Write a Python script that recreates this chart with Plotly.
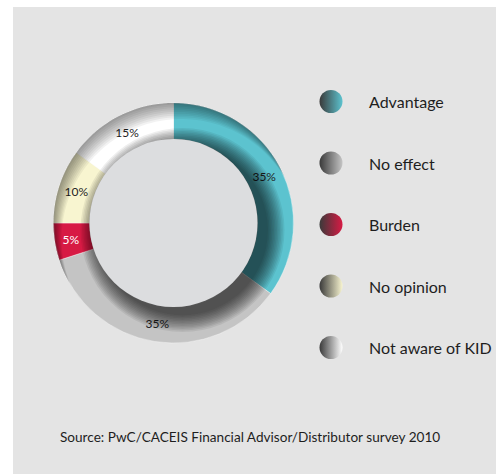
import math
import plotly.graph_objects as go

# Survey answers: impact of the KID
labels = ["Advantage", "No effect", "Burden", "No opinion", "Not aware of KID"]
shares = [35, 35, 5, 10, 15]
slice_colors = ["#5cc3cf", "#c4c4c4", "#d71a44", "#f8f5d0", "#ffffff"]
text_colors = ["#1e1e1e", "#1e1e1e", "#ffffff", "#1e1e1e", "#1e1e1e"]
source_note = "Source: PwC/CACEIS Financial Advisor/Distributor survey 2010"

W, H = 496, 474
FONT = "Lato"
cx, cy, R = 173.5, 223.0, 120.0   # donut centre / outer radius in px
HOLE = 0.70
r_in = R * HOLE


def px_x(v):
    return v / W


def px_y(v):
    return 1 - v / H


def rim_shade_path(ox, oy, n=144):
    """Crescent inside the outer circle, left over when the circle is shifted by (ox, oy)."""
    outer, inner = [], []
    for i in range(n):
        a = 2 * math.pi * i / n
        ux, uy = math.cos(a), math.sin(a)
        dot = ux * ox + uy * oy
        t = dot + math.sqrt(max(dot * dot - (ox * ox + oy * oy) + R * R, 0.0))
        r = min(t, R)
        outer.append((px_x(cx + R * ux), px_y(cy + R * uy)))
        inner.append((px_x(cx + r * ux), px_y(cy + r * uy)))
    inner.reverse()
    fmt = lambda pts: "M" + "L".join(f"{x:.5f},{y:.5f}" for x, y in pts) + "Z"
    return fmt(outer) + fmt(inner)


fig = go.Figure()

fig.add_trace(go.Pie(
    labels=labels,
    values=shares,
    hole=HOLE,
    sort=False,
    direction="clockwise",
    rotation=0,
    marker=dict(colors=slice_colors, line=dict(color="rgba(255,255,255,0.6)", width=0.6)),
    texttemplate="%{value}%",
    textposition="inside",
    insidetextorientation="horizontal",
    textfont=dict(family=FONT, size=12, color=text_colors),
    domain=dict(x=[px_x(cx - R), px_x(cx + R)], y=[px_y(cy + R), px_y(cy - R)]),
    showlegend=False,
    hoverinfo="label+percent",
))

# Legend: shaded dots (dark left edge fading into the slice colour) with labels
legend_x, legend_y0, legend_gap = 331, 101.5, 61.5
legend_y = [legend_y0 + i * legend_gap for i in range(len(labels))]
fig.add_trace(go.Scatter(
    x=[legend_x] * len(labels),
    y=legend_y,
    mode="markers",
    marker=dict(size=23, color="#3a3a3a",
                gradient=dict(type="horizontal", color=slice_colors),
                line=dict(width=0)),
    showlegend=False,
    hoverinfo="skip",
))
for name, yy in zip(labels, legend_y):
    fig.add_annotation(x=367, y=yy, xref="x", yref="y", text=name, showarrow=False,
                       xanchor="left", yanchor="middle",
                       font=dict(family=FONT, size=16, color="#1e1e1e"))

fig.add_annotation(x=58, y=437, xref="x", yref="y", text=source_note, showarrow=False,
                   xanchor="left", yanchor="middle",
                   font=dict(family=FONT, size=13.6, color="#1e1e1e"))

shapes = [
    # grey panel
    dict(type="rect", xref="paper", yref="paper", layer="below",
         x0=px_x(13), x1=1, y0=0, y1=px_y(7),
         fillcolor="#e4e4e4", line=dict(width=0)),
]
# recessed look: darker rim along the upper outer edge
dir_x, dir_y = 0.45, 0.89
for k in range(1, 10):
    d = 2.0 * k
    shapes.append(dict(type="path", xref="paper", yref="paper", layer="above",
                       path=rim_shade_path(dir_x * d, dir_y * d),
                       fillcolor="rgba(0,0,0,0.05)", line=dict(width=0)))
# soft shadow cast by the centre disc towards the lower right
sdx, sdy = 9, 7
for k in range(1, 13):
    rr = r_in + 1.5 * k
    shapes.append(dict(type="circle", xref="paper", yref="paper", layer="above",
                       x0=px_x(cx + sdx - rr), x1=px_x(cx + sdx + rr),
                       y0=px_y(cy + sdy + rr), y1=px_y(cy + sdy - rr),
                       fillcolor="rgba(0,0,0,0.065)", line=dict(width=0)))
# centre disc
shapes.append(dict(type="circle", xref="paper", yref="paper", layer="above",
                   x0=px_x(cx - r_in), x1=px_x(cx + r_in),
                   y0=px_y(cy + r_in), y1=px_y(cy - r_in),
                   fillcolor="#dcdddf", line=dict(width=0)))

fig.update_layout(
    width=W, height=H,
    margin=dict(l=0, r=0, t=0, b=0),
    paper_bgcolor="#ffffff",
    plot_bgcolor="rgba(0,0,0,0)",
    xaxis=dict(range=[0, W], visible=False, fixedrange=True, domain=[0, 1]),
    yaxis=dict(range=[H, 0], visible=False, fixedrange=True, domain=[0, 1]),
    shapes=shapes,
)

fig.write_html("out.html")
